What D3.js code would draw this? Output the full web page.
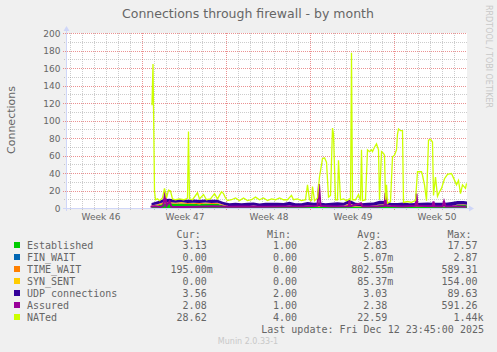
<!DOCTYPE html>
<html>
<head>
<meta charset="utf-8">
<script src="https://cdn.jsdelivr.net/npm/d3@7"></script>
<style>
  body { margin: 0; background: #f0f0f0; }
  svg { display: block; }
  text { fill: #666; font-family: "DejaVu Sans", sans-serif; }
  .mono { font-family: "DejaVu Sans Mono", monospace; font-size: 10px; }
</style>
</head>
<body>
<div id="chart"></div>
<script>
// Series names and colours (munin default palette)
const seriesNames = ["Established", "FIN_WAIT", "TIME_WAIT", "SYN_SENT", "UDP connections", "Assured", "NATed"];
const seriesColors = ["#00cc00", "#0066b3", "#ff8000", "#ffcc00", "#330099", "#990099", "#ccff00"];

// Legend columns as printed under the graph
const legendCur = ["3.13", "0.00", "195.00m", "0.00", "3.56", "2.08", "28.62"];
const legendMin = ["1.00", "0.00", "0.00", "0.00", "2.00", "1.00", "4.00"];
const legendAvg = ["2.83", "5.07m", "802.55m", "85.37m", "3.03", "2.38", "22.59"];
const legendMax = ["17.57", "2.87", "589.31", "154.00", "89.63", "591.26", "1.44k"];
const lastUpdate = "Last update: Fri Dec 12 23:45:00 2025";

// Y axis tick labels
const yTicks = [0, 20, 40, 60, 80, 100, 120, 140, 160, 180, 200];

// Time is in hours relative to Mon 17 Nov 2025 00:00 (start of week 47)
const viewStartHour = -152;
const viewEndHour = 648;

// Stacked areas: one sample every 12 hours, starting at hour 18
const stackStartHour = 18;
const stackStepHours = 12;
const established = [2.5, 3.5, 5.5, 6, 5.5, 5.8, 5.2, 5.5, 5, 5.6, 5.2, 5.4, 3.5,
  2, 2.2, 1.8, 2.1, 2.4, 2, 1.9, 2.2, 2.5, 2, 2.3, 1.8, 2.1, 2.6, 2.2, 2, 1.9, 2.3, 2.1, 2.4,
  2, 2.2, 1.8, 2.1, 2.5, 4, 4.2, 2.3, 2, 2.2, 1.9, 2.4, 2.1, 2, 2.3, 2.2, 2, 2.1, 4, 4.3, 3.1];
const finWait = [0, 0, 0, 0, 0.05, 0, 0, 0, 0, 0, 0, 0, 0,
  0, 0, 0, 0, 0, 0, 0, 0, 0, 0, 0, 0, 0, 0, 0, 0, 0, 0, 0, 0,
  0, 0, 0.05, 0, 0, 0, 0, 0, 0, 0, 0, 0, 0, 0, 0, 0, 0, 0, 0, 0, 0];
const timeWait = [0.8, 1.2, 1.5, 1.3, 1, 1.4, 1.2, 0.9, 1.3, 1.1, 1.2, 1, 0.8,
  0.6, 0.5, 0.7, 0.6, 0.8, 0.5, 0.6, 0.7, 0.5, 0.6, 0.9, 0.6, 0.5, 0.7, 0.6, 0.8, 0.6, 0.5, 0.7, 0.6,
  2.5, 0.7, 0.6, 0.5, 0.8, 0.6, 0.7, 0.5, 0.6, 0.8, 0.6, 0.5, 0.7, 0.6, 0.5, 0.8, 0.6, 0.7, 0.5, 0.6, 0.7];
const synSent = [0, 0.1, 0.2, 0.1, 0, 0.1, 0, 0.1, 0, 0.2, 0, 0.1, 0,
  0, 0.1, 0, 0, 0.1, 0, 0, 0.1, 0, 0, 0.2, 0, 0, 0.1, 0, 0, 0.1, 0, 0, 0.1,
  1.5, 0, 0.1, 0, 0, 0.1, 0, 0, 0.1, 0, 0, 0.1, 0, 0, 0.1, 0, 0, 0.1, 0, 0, 0];
const udp = [3, 3.6, 3.4, 3.8, 3.5, 3.2, 3.6, 3.9, 3.4, 3.3, 3.7, 3.5, 3.2,
  3.4, 3.8, 3.5, 3.9, 3.6, 3.3, 4.1, 3.7, 3.5, 3.8, 4.2, 3.6, 3.4, 3.9, 3.7, 4, 3.5, 3.8, 4.3, 3.6,
  4, 3.7, 3.4, 3.9, 3.6, 4.1, 3.8, 3.5, 3.7, 4, 3.6, 3.3, 3.8, 4.2, 3.7, 3.5, 3.9, 4.4, 4, 3.8, 3.6];

// Lines: [hour, value] pairs
const assured = [[16, 2], [24, 2.5], [36, 1.8], [42, 3], [45, 20], [48, 3], [54, 8], [58, 2], [80, 1.8],
  [110, 2], [140, 2.5], [170, 2], [200, 2.3], [240, 2], [280, 2.4], [320, 2.2], [350, 3], [353, 28],
  [356, 3], [380, 2.4], [412, 2.5], [414, 9], [416, 2.5], [437, 6], [440, 2.3], [470, 2.2], [484, 3],
  [486, 18], [488, 3], [520, 2.2], [546, 3], [548, 17], [550, 3], [580, 2.5], [582, 8], [584, 2.5],
  [600, 2.4], [603, 8], [606, 2.4], [630, 2.2], [648, 2.08]];
const nated = [[19, 118], [21, 165], [24, 20], [26, 10], [30, 11], [34, 9], [40, 12], [44, 23], [48, 12],
  [52, 21], [56, 20], [60, 11], [66, 10], [74, 11], [82, 10], [88, 11], [90, 12], [92, 88], [94, 11],
  [100, 10], [110, 18], [114, 11], [122, 16], [128, 10], [136, 11], [144, 17], [150, 11], [158, 19],
  [162, 17], [166, 12], [170, 9], [178, 10], [186, 12], [194, 9], [202, 12], [210, 9], [218, 10],
  [226, 13], [234, 10], [242, 12], [250, 9], [258, 11], [266, 10], [274, 12], [282, 10], [290, 10],
  [298, 15], [302, 10], [310, 11], [318, 9], [326, 10], [330, 27], [334, 10], [338, 9], [340, 25],
  [344, 9], [350, 12], [354, 36], [360, 57], [364, 58], [368, 53], [372, 13], [376, 15], [380, 92],
  [382, 85], [386, 10], [390, 10], [392, 55], [396, 10], [402, 11], [408, 9], [414, 11], [416, 10],
  [418, 178], [420, 10], [426, 10], [432, 16], [436, 9], [438, 67], [440, 9], [446, 10], [450, 67],
  [454, 65], [458, 67], [460, 65], [464, 70], [468, 74], [472, 67], [474, 10], [478, 65], [482, 63],
  [484, 61], [486, 10], [488, 27], [490, 6], [496, 8], [500, 59], [504, 61], [508, 67], [510, 85],
  [512, 91], [516, 89], [520, 89], [522, 7], [530, 8], [538, 7], [546, 9], [550, 42], [558, 42],
  [560, 38], [564, 27], [568, 9], [572, 78], [576, 79], [580, 76], [582, 15], [586, 36], [590, 14],
  [594, 19], [598, 23], [604, 34], [610, 39], [614, 39.5], [618, 40], [622, 35], [628, 27], [632, 32],
  [636, 17], [640, 27], [646, 23], [648, 28.62]];

// ---------------- chart ---------------- //
const width = 497, height = 352;
const padLeft = 66.5, padRight = 466.5, padTop = 33.5, padBtm = 208.5;
const gridColor = "rgba(143,143,143,0.45)";
const mgridColor = "rgba(222,72,72,0.6)";
const axisColor = "#cfd6f8";

const week47 = Date.UTC(2025, 10, 17);
const toDate = h => new Date(week47 + h * 3600e3);

const xScale = d3.scaleUtc()
  .domain([toDate(viewStartHour), toDate(viewEndHour)])
  .range([padLeft, padRight]);
const yScale = d3.scaleLinear()
  .domain([0, 200])
  .range([padBtm, padTop]);

const sx = d => Math.floor(xScale(d)) + 0.5;
const sy = v => Math.floor(yScale(v)) + 0.5;

const svg = d3.select("#chart").append("svg")
  .attr("width", width)
  .attr("height", height);

svg.append("rect")
  .attr("width", width).attr("height", height)
  .attr("fill", "#f0f0f0");

// canvas
svg.append("rect")
  .attr("x", 66).attr("y", 33)
  .attr("width", 401).attr("height", 176)
  .attr("fill", "#ffffff");

svg.append("clipPath").attr("id", "canvas")
  .append("rect")
  .attr("x", 66).attr("y", 33)
  .attr("width", 401).attr("height", 176);

// grid
const grid = svg.append("g")
  .attr("shape-rendering", "crispEdges")
  .attr("stroke-dasharray", "1,1");

const days = d3.utcDay.range(xScale.domain()[0], xScale.domain()[1]);
const mondays = d3.utcMonday.range(xScale.domain()[0], xScale.domain()[1]);
const minorY = d3.range(10, 200, 20);

grid.selectAll(".xminor")
  .data(days.filter(d => d.getUTCDay() !== 1))
  .enter().append("line")
  .attr("x1", sx).attr("x2", sx)
  .attr("y1", 33).attr("y2", 211)
  .attr("stroke", gridColor);

grid.selectAll(".yminor")
  .data(minorY)
  .enter().append("line")
  .attr("x1", 64).attr("x2", 467)
  .attr("y1", sy).attr("y2", sy)
  .attr("stroke", gridColor);

grid.selectAll(".xmajor")
  .data(mondays)
  .enter().append("line")
  .attr("x1", sx).attr("x2", sx)
  .attr("y1", 33).attr("y2", 211)
  .attr("stroke", mgridColor);

grid.selectAll(".ymajor")
  .data(yTicks.filter(v => v > 0))
  .enter().append("line")
  .attr("x1", 63).attr("x2", 467)
  .attr("y1", sy).attr("y2", sy)
  .attr("stroke", mgridColor);

// data
const plot = svg.append("g").attr("clip-path", "url(#canvas)");

const stackKeys = ["established", "finWait", "timeWait", "synSent", "udp"];
const stackSeries = [established, finWait, timeWait, synSent, udp];
const rows = established.map((_, i) => {
  const row = { hour: stackStartHour + i * stackStepHours };
  stackKeys.forEach((k, j) => row[k] = stackSeries[j][i]);
  return row;
});
const stacked = d3.stack().keys(stackKeys)(rows);

const area = d3.area()
  .x(d => xScale(toDate(d.data.hour)))
  .y0(d => yScale(d[0]))
  .y1(d => yScale(d[1]));

plot.selectAll(".area")
  .data(stacked)
  .enter().append("path")
  .attr("d", area)
  .attr("fill", (d, i) => seriesColors[i]);

const line = d3.line()
  .x(d => xScale(toDate(d[0])))
  .y(d => yScale(d[1]));

plot.append("path")
  .attr("d", line(assured))
  .attr("fill", "none")
  .attr("stroke", seriesColors[5])
  .attr("stroke-width", 2);

plot.append("path")
  .attr("d", line(nated))
  .attr("fill", "none")
  .attr("stroke", seriesColors[6])
  .attr("stroke-width", 1.3);

// axes lines with arrows
svg.append("line")
  .attr("x1", 63).attr("x2", 470)
  .attr("y1", padBtm).attr("y2", padBtm)
  .attr("stroke", axisColor);
svg.append("line")
  .attr("x1", padLeft).attr("x2", padLeft)
  .attr("y1", 211).attr("y2", 29)
  .attr("stroke", axisColor);
svg.append("path")
  .attr("d", "M469,205.5L474,208.5L469,211.5Z")
  .attr("fill", axisColor);
svg.append("path")
  .attr("d", "M63.5,31L66.5,26L69.5,31Z")
  .attr("fill", axisColor);

// y axis labels
svg.append("g")
  .attr("transform", "translate(" + padLeft + ",0)")
  .call(d3.axisLeft(yScale).tickValues(yTicks).tickSize(0).tickPadding(6))
  .call(g => g.select(".domain").remove())
  .selectAll("text")
  .style("font-family", "DejaVu Sans")
  .style("font-size", "9px")
  .attr("fill", "#666");

// x axis: week labels centred between mondays
const weekMids = mondays.map(d => d3.utcHour.offset(d, 84));
weekMids.unshift(d3.utcHour.offset(mondays[0], -84));
svg.append("g")
  .attr("transform", "translate(0," + padBtm + ")")
  .call(d3.axisBottom(xScale)
    .tickValues(weekMids)
    .tickSize(0)
    .tickPadding(5)
    .tickFormat(d => "Week " + d3.utcFormat("%V")(d)))
  .call(g => g.select(".domain").remove())
  .selectAll("text")
  .style("font-family", "DejaVu Sans")
  .style("font-size", "9px")
  .attr("fill", "#666");

// titles
svg.append("text")
  .attr("x", 248).attr("y", 18.3)
  .attr("text-anchor", "middle")
  .style("font-size", "12.5px")
  .text("Connections through firewall - by month");

svg.append("text")
  .attr("transform", "translate(15,120) rotate(-90)")
  .attr("text-anchor", "middle")
  .style("font-size", "11px")
  .text("Connections");

svg.append("text")
  .attr("transform", "translate(486,5) rotate(90)")
  .style("font-size", "8px")
  .style("fill", "#c8c8c8")
  .text("RRDTOOL / TOBI OETIKER");

svg.append("text")
  .attr("x", 248).attr("y", 344)
  .attr("text-anchor", "middle")
  .style("font-size", "8px")
  .style("fill", "#c8c8c8")
  .text("Munin 2.0.33-1");

// legend
const colX = [206.7, 297, 387.3, 477.6];
const headers = ["Cur:", "Min:", "Avg:", "Max:"];
const columns = [legendCur, legendMin, legendAvg, legendMax];
const rowY = i => 249 + i * 12;

const legend = svg.append("g").attr("class", "mono");

headers.forEach((h, j) => {
  legend.append("text")
    .attr("class", "mono")
    .attr("x", colX[j] - 6).attr("y", 237.5)
    .attr("text-anchor", "end")
    .text(h);
});

seriesNames.forEach((name, i) => {
  legend.append("rect")
    .attr("x", 14).attr("y", rowY(i) - 7)
    .attr("width", 6).attr("height", 6)
    .attr("fill", seriesColors[i]);
  legend.append("text")
    .attr("class", "mono")
    .attr("x", 27).attr("y", rowY(i))
    .text(name);
  columns.forEach((col, j) => {
    const m = col[i].match(/^([\d.]+)(\D?)$/);
    legend.append("text")
      .attr("class", "mono")
      .attr("x", colX[j]).attr("y", rowY(i))
      .attr("text-anchor", "end")
      .text(m[1]);
    if (m[2]) {
      legend.append("text")
        .attr("class", "mono")
        .attr("x", colX[j]).attr("y", rowY(i))
        .text(m[2]);
    }
  });
});

legend.append("text")
  .attr("class", "mono")
  .attr("x", 484).attr("y", rowY(7))
  .attr("text-anchor", "end")
  .text(lastUpdate);
</script>
</body>
</html>
